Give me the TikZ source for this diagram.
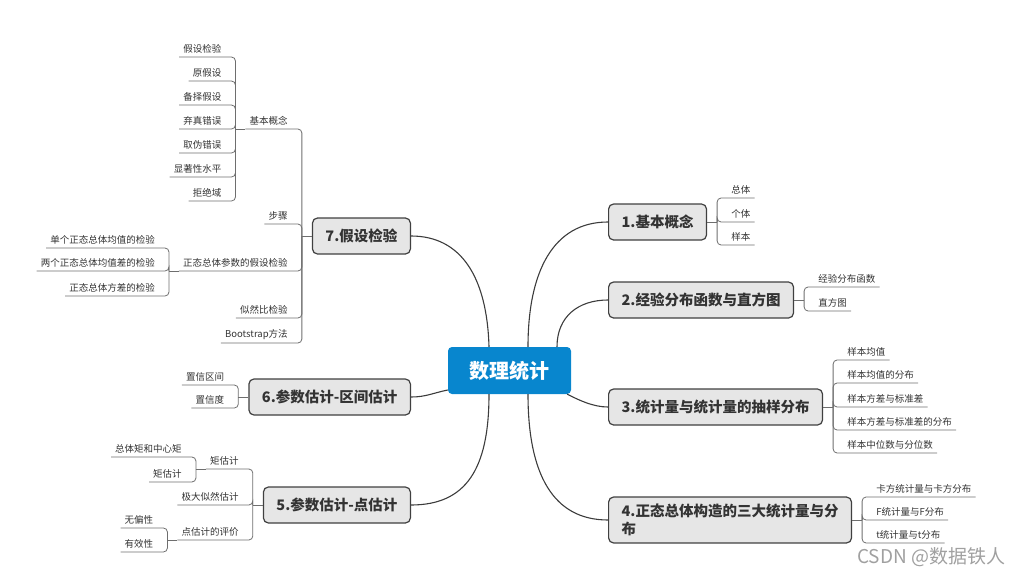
\documentclass[tikz,border=0pt]{standalone}
\usepackage{fontspec}
\setmainfont{Noto Sans CJK SC}
\usetikzlibrary{positioning,calc}
\definecolor{rootblue}{RGB}{8,134,206}
\definecolor{topfill}{RGB}{230,230,230}
\definecolor{topdraw}{RGB}{64,64,64}
\definecolor{branchgray}{RGB}{60,60,60}
\definecolor{leafgray}{RGB}{110,110,110}
\definecolor{leaftext}{RGB}{51,51,51}
\definecolor{markgray}{RGB}{160,160,160}
\tikzset{
  root/.style={rectangle, rounded corners=4pt, fill=rootblue, text=white,
    font=\fontsize{20}{24}\selectfont\bfseries, minimum width=123pt, minimum height=47pt},
  topic/.style={rectangle, rounded corners=5pt, draw=topdraw, line width=1.2pt, fill=topfill,
    text=leaftext, font=\fontsize{14.5}{18}\selectfont\bfseries, inner xsep=13pt, minimum height=36pt},
  leafL/.style={anchor=south east, inner xsep=4pt, inner ysep=3.5pt, text=leaftext,
    font=\fontsize{9.5}{11}\selectfont},
  leafR/.style={leafL, anchor=south west},
  trunk/.style={branchgray, line width=1.1pt},
  twig/.style={leafgray, line width=0.8pt, rounded corners=4pt},
}

\begin{document}
\begin{tikzpicture}[x=1pt, y=-1pt]
\useasboundingbox (0,0) rectangle (1012,576);
% centre and main topics
\node[root] (root) at (509.5,370.5) {数理统计};
\node[topic, anchor=west] (t1) at (608,222) {1.基本概念};
\node[topic, anchor=west] (t2) at (608,300) {2.经验分布函数与直方图};
\node[topic, anchor=west] (t3) at (608,407) {3.统计量与统计量的抽样分布};
\node[topic, anchor=west, align=left, inner ysep=7pt] (t4) at (608,520) {4.正态总体构造的三大统计量与分\\布};
\node[topic, anchor=east] (t5) at (411,505) {5.参数估计-点估计};
\node[topic, anchor=east] (t6) at (411,397) {6.参数估计-区间估计};
\node[topic, anchor=east] (t7) at (411,236) {7.假设检验};

\draw[trunk] ($(root.north)+(-20.5,0)$) .. controls +(-2,-70) and +(50,0) .. (t7.east);
\draw[trunk] ($(root.north)+(18.5,0)$) .. controls +(0,-75) and +(-55,0) .. (t1.west);
\draw[trunk] ($(root.north)+(47.5,0)$) .. controls +(0,-30) and +(-30,0) .. (t2.west);
\draw[trunk] ($(root.west)+(0,19.5)$) .. controls +(-15,3) and +(15,0) .. (t6.east);
\draw[trunk] ($(root.south east)+(-4,0)$) .. controls +(12,6) and +(-15,0) .. (t3.west);
\draw[trunk] ($(root.south)+(-20.5,0)$) .. controls +(0,75) and +(55,0) .. (t5.east);
\draw[trunk] ($(root.south)+(18.5,0)$) .. controls +(0,80) and +(-55,0) .. (t4.west);

% right side
\coordinate (f1) at ($(t1.east)+(10,0)$);
\draw[twig] (t1.east) -- (f1);
\foreach \dy/\txt [count=\i] in {-24/总体,0/个体,23/样本}{
  \node[leafR] (l1\i) at ($(f1)+(10,\dy)$) {\txt};
  \draw[twig] (f1) |- (l1\i.south east);
}
\coordinate (f2) at ($(t2.east)+(10,0)$);
\draw[twig] (t2.east) -- (f2);
\foreach \dy/\txt [count=\i] in {-13/经验分布函数,11/直方图}{
  \node[leafR] (l2\i) at ($(f2)+(10,\dy)$) {\txt};
  \draw[twig] (f2) |- (l2\i.south east);
}
\coordinate (f3) at ($(t3.east)+(10,0)$);
\draw[twig] (t3.east) -- (f3);
\foreach \dy/\txt [count=\i] in {-47/样本均值,-24/样本均值的分布,0/样本方差与标准差,
    23/样本方差与标准差的分布,46/样本中位数与分位数}{
  \node[leafR] (l3\i) at ($(f3)+(10,\dy)$) {\txt};
  \draw[twig] (f3) |- (l3\i.south east);
}
\coordinate (f4) at ($(t4.east)+(10,0)$);
\draw[twig] (t4.east) -- (f4);
\foreach \dy/\txt [count=\i] in {-23/卡方统计量与卡方分布,0/F统计量与F分布,23/t统计量与t分布}{
  \node[leafR] (l4\i) at ($(f4)+(10,\dy)$) {\txt};
  \draw[twig] (f4) |- (l4\i.south east);
}

% left side: 7
\coordinate (f7) at ($(t7.west)+(-10,0)$);
\draw[twig] (t7.west) -- (f7);
\node[leafL] (n71) at ($(f7)+(-10,-107)$) {基本概念};
\node[leafL] (n72) at ($(f7)+(-10,-12)$) {步骤};
\node[leafL] (n73) at ($(f7)+(-10,35)$) {正态总体参数的假设检验};
\node[leafL] (n74) at ($(f7)+(-10,82)$) {似然比检验};
\node[leafL] (n75) at ($(f7)+(-10,107)$) {Bootstrap方法};
\foreach \i in {1,...,5}
  \draw[twig] (f7) |- (n7\i.south west);
\coordinate (g71) at ($(n71.south west)+(-10,0)$);
\draw[twig] (n71.south west) -- (g71);
\foreach \dy/\txt [count=\i] in {-72/假设检验,-48/原假设,-24/备择假设,0/弃真错误,
    24/取伪错误,48/显著性水平,72/拒绝域}{
  \node[leafL] (m1\i) at ($(g71)+(-10,\dy)$) {\txt};
  \draw[twig] (g71) |- (m1\i.south west);
}
\coordinate (g73) at ($(n73.south west)+(-10,0)$);
\draw[twig] (n73.south west) -- (g73);
\foreach \dy/\txt [count=\i] in {-23/单个正态总体均值的检验,0/两个正态总体均值差的检验,25/正态总体方差的检验}{
  \node[leafL] (m3\i) at ($(g73)+(-10,\dy)$) {\txt};
  \draw[twig] (g73) |- (m3\i.south west);
}

% left side: 6
\coordinate (f6) at ($(t6.west)+(-10,0)$);
\draw[twig] (t6.west) -- (f6);
\foreach \dy/\txt [count=\i] in {-12/置信区间,11/置信度}{
  \node[leafL] (l6\i) at ($(f6)+(-10,\dy)$) {\txt};
  \draw[twig] (f6) |- (l6\i.south west);
}

% left side: 5
\coordinate (f5) at ($(t5.west)+(-10,0)$);
\draw[twig] (t5.west) -- (f5);
\node[leafL] (n51) at ($(f5)+(-10,-36)$) {矩估计};
\node[leafL] (n52) at ($(f5)+(-10,0)$) {极大似然估计};
\node[leafL] (n53) at ($(f5)+(-10,35)$) {点估计的评价};
\foreach \i in {1,2,3}
  \draw[twig] (f5) |- (n5\i.south west);
\coordinate (g51) at ($(n51.south west)+(-10,0)$);
\draw[twig] (n51.south west) -- (g51);
\foreach \dy/\txt [count=\i] in {-12/总体矩和中心矩,13/矩估计}{
  \node[leafL] (k1\i) at ($(g51)+(-10,\dy)$) {\txt};
  \draw[twig] (g51) |- (k1\i.south west);
}
\coordinate (g53) at ($(n53.south west)+(-10,0)$);
\draw[twig] (n53.south west) -- (g53);
\foreach \dy/\txt [count=\i] in {-12/无偏性,12/有效性}{
  \node[leafL] (k3\i) at ($(g53)+(-10,\dy)$) {\txt};
  \draw[twig] (g53) |- (k3\i.south west);
}

\node[anchor=west, text=markgray, font=\fontsize{19}{22}\selectfont, inner xsep=0pt] (mark) at (857,557) {CSDN @数据铁人};
\end{tikzpicture}
\end{document}
